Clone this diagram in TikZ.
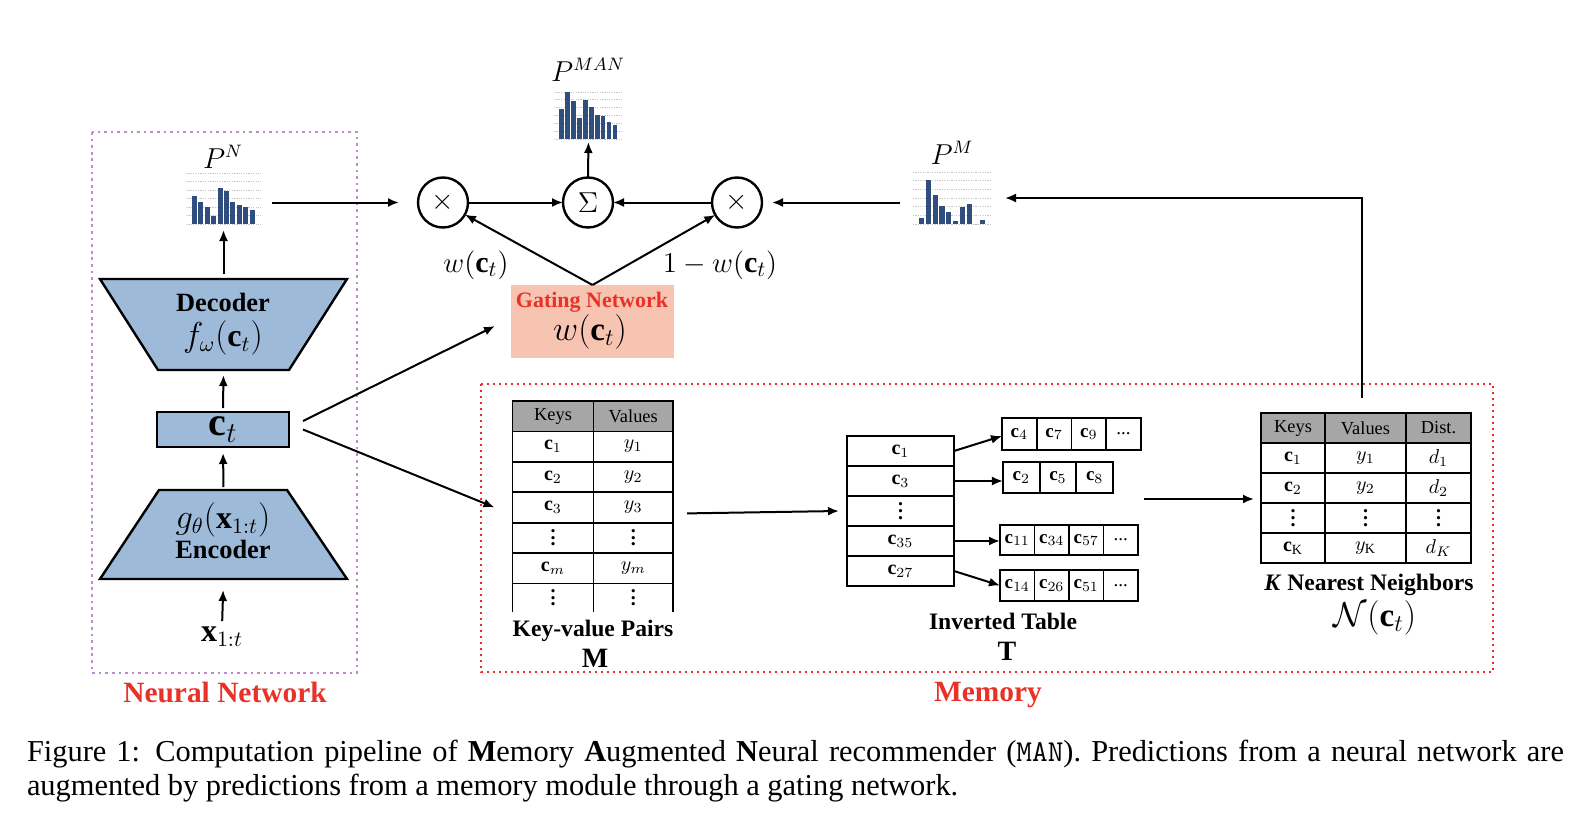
\documentclass[tikz,border=0pt]{standalone}
\usepackage{fontspec}
\setmainfont{Liberation Serif}
\usetikzlibrary{arrows.meta,calc}
\definecolor{trapblue}{RGB}{157,186,217}
\definecolor{purpdot}{RGB}{188,140,205}
\definecolor{reddot}{RGB}{232,45,45}
\definecolor{gatefill}{RGB}{246,196,176}
\definecolor{redtxt}{RGB}{232,50,40}
\definecolor{barc}{RGB}{47,78,125}
\definecolor{hdrgray}{RGB}{166,166,166}
\newcommand\fs[1]{\fontsize{#1}{#1}\selectfont}
\newcommand\vd{\vbox{\baselineskip=3.4pt\lineskiplimit=0pt\hbox{\bfseries .}\hbox{\bfseries .}\hbox{\bfseries .}}}
\newcommand\myGrid[1]{\foreach \k in {0,...,6}{\draw[gridl] ($(#1.north west)!\k/6!(#1.south west)$) -- ($(#1.north east)!\k/6!(#1.south east)$);}}
\newcommand\myHist[5]{\foreach \h [count=\i from 0] in {#5}{\fill[barc] ({#1+\i*#3},#2) rectangle ({#1+\i*#3+#4},{#2-\h});}}
\begin{document}
\begin{tikzpicture}[x=0.5pt,y=-0.5pt,
  every node/.style={inner sep=0pt, outer sep=0pt},
  arr/.style={-{Latex[length=5.5pt,width=4.5pt]}, line width=1pt},
  lbl/.style={font=\fs{11.8}\bfseries},
  cellst/.style={draw, line width=0.9pt, font=\fs{10}},
  hdr/.style={cellst, fill=hdrgray, font=\fs{9.2}},
  sub/.style={cellst, font=\fs{9.5}},
  gridl/.style={gray!45, line width=0.4pt, dash pattern=on 0.6pt off 0.6pt},
  opnode/.style={draw, circle, line width=1.2pt, minimum size=25pt, font=\fs{14}},
  redlbl/.style={font=\fs{14.7}\bfseries, text=redtxt},
]
\useasboundingbox (0,0) rectangle (1591,830);

% frames
\draw[purpdot, line width=1.35pt, dash pattern=on 1.35pt off 1.95pt] (92,132) rectangle (357,673);
\draw[reddot, line width=1.1pt, dash pattern=on 1.1pt off 1.9pt] (481,384) rectangle (1493,672);

% histograms
\node (pn) at (223.5,198.5) [minimum width=37.5pt, minimum height=25.5pt] {};
\myGrid{pn}
\myHist{192}{224}{6.4}{5}{28,22,17,8,36,33,22,19,17,14}
\node[font=\fs{13.5}] (pnl) at (223,157) {$P^N$};

\node (pman) at (588.5,115.5) [minimum width=34.5pt, minimum height=23.5pt] {};
\myGrid{pman}
\myHist{559}{139}{5.95}{4.8}{30,47,38,21,39,32,24,23,17,14}
\node[font=\fs{13.5}] (pmanl) at (588,70) {$P^{MAN}$};

\node (pm) at (952.5,198) [minimum width=39.5pt, minimum height=26pt] {};
\myGrid{pm}
\myHist{919}{224}{6.8}{5.2}{6,44,29,18,12,3,17,20,0,4}
\node[font=\fs{13.5}] (pml) at (952,153) {$P^M$};

% neural network
\node (dec) at (223.5,324.5) [minimum width=123.5pt, minimum height=45.5pt] {};
\draw[fill=trapblue, line width=1.2pt] (dec.north west) -- (dec.north east) -- ([xshift=-29pt]dec.south east) -- ([xshift=29pt]dec.south west) -- cycle;
\node[font=\fs{13.2}\bfseries] (dect1) at (223,302) {Decoder};
\node[font=\fs{16}] (dect2) at (223,338) {$f_\omega(\mathbf{c}_t)$};

\node (enc) at (223.5,534.5) [minimum width=123.5pt, minimum height=44.5pt] {};
\draw[fill=trapblue, line width=1.2pt] ([xshift=29.5pt]enc.north west) -- ([xshift=-30pt]enc.north east) -- (enc.south east) -- (enc.south west) -- cycle;
\node[font=\fs{16}] (enct1) at (223,520) {$g_\theta(\mathbf{x}_{1:t})$};
\node[font=\fs{13.2}\bfseries] (enct2) at (223,549) {Encoder};

\node[draw, fill=trapblue, line width=1.2pt, minimum width=66pt, minimum height=17.5pt, font=\fs{20}] (ct) at (223,429.5) {$\mathbf{c}_t$};
\node[font=\fs{16}] (xin) at (222,637) {$\mathbf{x}_{1:t}$};

\draw[arr, shorten <=3pt, shorten >=5.5pt] (xin.north) -- (enc.south);
\draw[arr, shorten <=1.5pt, shorten >=3pt] (enc.north) -- (ct.south);
\draw[arr, shorten <=2pt, shorten >=2.5pt] (ct.north) -- (dec.south);
\draw[arr, shorten <=2.5pt, shorten >=3pt] (dec.north) -- (pn.south);

% operators
\node[opnode] (m1) at (443,202.5) {$\times$};
\node[opnode] (sum) at (588,202.5) {$\Sigma$};
\node[opnode] (m2) at (737,202.5) {$\times$};

\draw[arr, shorten <=5.5pt, shorten >=9.5pt] (pn.east |- m1.west) -- (m1.west);
\draw[arr] (m1) -- (sum);
\draw[arr] (m2) -- (sum);
\draw[arr, shorten >=1.5pt] (sum.north) -- (pman.south);
\draw[arr, shorten <=6.5pt, shorten >=5pt] (pm.west |- m2.east) -- (m2.east);

% gating
\node[fill=gatefill, minimum width=81.5pt, minimum height=36.5pt] (gate) at (592.5,321.5) {};
\node[font=\fs{11}\bfseries, text=redtxt] (gt1) at (592,302) {Gating Network};
\node[font=\fs{16.5}] (gt2) at (590,332) {$w(\mathbf{c}_t)$};
\draw[arr] (gate.north) -- (m1);
\draw[arr] (gate.north) -- (m2);
\node[font=\fs{15}] (wl) at (476,265) {$w(\mathbf{c}_t)$};
\node[font=\fs{15}] (wr) at (720,265) {$1-w(\mathbf{c}_t)$};

% key-value table
\node[hdr, minimum width=40.5pt, minimum height=15.2pt] (kvH1) at (553,416.2) {Keys};
\node[hdr, minimum width=39.75pt, minimum height=15.2pt] (kvH2) at (633.25,416.2) {Values};
\node[cellst, minimum width=40.5pt, minimum height=15.2pt] (kvL1) at (553,446.6) {$\mathbf{c}_1$};
\node[cellst, minimum width=39.75pt, minimum height=15.2pt] (kvR1) at (633.25,446.6) {$y_1$};
\node[cellst, minimum width=40.5pt, minimum height=15.2pt] (kvL2) at (553,477) {$\mathbf{c}_2$};
\node[cellst, minimum width=39.75pt, minimum height=15.2pt] (kvR2) at (633.25,477) {$y_2$};
\node[cellst, minimum width=40.5pt, minimum height=15.2pt] (kvL3) at (553,507.4) {$\mathbf{c}_3$};
\node[cellst, minimum width=39.75pt, minimum height=15.2pt] (kvR3) at (633.25,507.4) {$y_3$};
\node[cellst, minimum width=40.5pt, minimum height=15.2pt] (kvL4) at (553,537.8) {\vd};
\node[cellst, minimum width=39.75pt, minimum height=15.2pt] (kvR4) at (633.25,537.8) {\vd};
\node[cellst, minimum width=40.5pt, minimum height=15.2pt] (kvL5) at (553,568.2) {$\mathbf{c}_m$};
\node[cellst, minimum width=39.75pt, minimum height=15.2pt] (kvR5) at (633.25,568.2) {$y_m$};
\node[minimum width=40.5pt, minimum height=14.3pt, font=\fs{10}] (kvL6) at (553,597.7) {\vd};
\node[minimum width=39.75pt, minimum height=14.3pt, font=\fs{10}] (kvR6) at (633.25,597.7) {\vd};
\draw[line width=0.9pt] (kvL6.north west) -- (kvL6.south west) (kvL6.north east) -- (kvL6.south east) (kvR6.north east) -- (kvR6.south east);
\node[lbl] (kvlbl) at (593,631) {Key-value Pairs};
\node[font=\fs{14}\bfseries] (kvM) at (595,658) {M};

% inverted table
\node[cellst, minimum width=53.5pt, minimum height=15pt] (inv1) at (900.5,451) {$\mathbf{c}_1$};
\node[cellst, minimum width=53.5pt, minimum height=15pt] (inv2) at (900.5,481) {$\mathbf{c}_3$};
\node[cellst, minimum width=53.5pt, minimum height=15pt] (inv3) at (900.5,511) {\vd};
\node[cellst, minimum width=53.5pt, minimum height=15pt] (inv4) at (900.5,541) {$\mathbf{c}_{35}$};
\node[cellst, minimum width=53.5pt, minimum height=15pt] (inv5) at (900.5,571) {$\mathbf{c}_{27}$};

\node[sub, minimum width=17.375pt, minimum height=16pt] (a11) at (1019.4,434) {$\mathbf{c}_4$};
\node[sub, minimum width=17.375pt, minimum height=16pt] (a12) at (1054.1,434) {$\mathbf{c}_7$};
\node[sub, minimum width=17.375pt, minimum height=16pt] (a13) at (1088.9,434) {$\mathbf{c}_9$};
\node[sub, minimum width=17.375pt, minimum height=16pt] (a14) at (1123.6,434) {...};

\node[sub, minimum width=18.33pt, minimum height=15.5pt] (a21) at (1021.3,477.5) {$\mathbf{c}_2$};
\node[sub, minimum width=18.33pt, minimum height=15.5pt] (a22) at (1058,477.5) {$\mathbf{c}_5$};
\node[sub, minimum width=18.33pt, minimum height=15.5pt] (a23) at (1094.7,477.5) {$\mathbf{c}_8$};

\node[sub, minimum width=17.25pt, minimum height=15pt] (a31) at (1017.25,540) {$\mathbf{c}_{11}$};
\node[sub, minimum width=17.25pt, minimum height=15pt] (a32) at (1051.75,540) {$\mathbf{c}_{34}$};
\node[sub, minimum width=17.25pt, minimum height=15pt] (a33) at (1086.25,540) {$\mathbf{c}_{57}$};
\node[sub, minimum width=17.25pt, minimum height=15pt] (a34) at (1120.75,540) {...};

\node[sub, minimum width=17.25pt, minimum height=15.5pt] (a41) at (1017.25,585.5) {$\mathbf{c}_{14}$};
\node[sub, minimum width=17.25pt, minimum height=15.5pt] (a42) at (1051.75,585.5) {$\mathbf{c}_{26}$};
\node[sub, minimum width=17.25pt, minimum height=15.5pt] (a43) at (1086.25,585.5) {$\mathbf{c}_{51}$};
\node[sub, minimum width=17.25pt, minimum height=15.5pt] (a44) at (1120.75,585.5) {...};

\draw[arr] (inv1.east) -- ([yshift=-1pt]a11.west);
\draw[arr] (inv2.east) -- (inv2.east -| a21.west);
\draw[arr] (inv4.east) -- (inv4.east -| a31.west);
\draw[arr] (inv5.east) -- (a41.west);

\node[lbl] (invlbl) at (1003,621) {Inverted Table};
\node[font=\fs{14}\bfseries] (invT) at (1007,651) {T};

% KNN table
\node[hdr, minimum width=32pt, minimum height=15pt] (knnA0) at (1293,428) {Keys};
\node[hdr, minimum width=40.5pt, minimum height=15pt] (knnB1) at (1365.5,428) {Values};
\node[hdr, minimum width=32.5pt, minimum height=15pt] (knnC0) at (1438.5,428) {Dist.};
\node[cellst, minimum width=32pt, minimum height=15pt] (knnA1) at (1293,458) {$\mathbf{c}_1$};
\node[cellst, minimum width=40.5pt, minimum height=15pt] (knnB2) at (1365.5,458) {$y_1$};
\node[cellst, minimum width=32.5pt, minimum height=15pt] (knnC1) at (1438.5,458) {$d_1$};
\node[cellst, minimum width=32pt, minimum height=15pt] (knnA2) at (1293,488) {$\mathbf{c}_2$};
\node[cellst, minimum width=40.5pt, minimum height=15pt] (knnB3) at (1365.5,488) {$y_2$};
\node[cellst, minimum width=32.5pt, minimum height=15pt] (knnC2) at (1438.5,488) {$d_2$};
\node[cellst, minimum width=32pt, minimum height=15pt] (knnA3) at (1293,518) {\vd};
\node[cellst, minimum width=40.5pt, minimum height=15pt] (knnB4) at (1365.5,518) {\vd};
\node[cellst, minimum width=32.5pt, minimum height=15pt] (knnC3) at (1438.5,518) {\vd};
\node[cellst, minimum width=32pt, minimum height=15pt] (knnA4) at (1293,548) {$\mathbf{c}_\mathrm{K}$};
\node[cellst, minimum width=40.5pt, minimum height=15pt] (knnB5) at (1365.5,548) {$y_\mathrm{K}$};
\node[cellst, minimum width=32.5pt, minimum height=15pt] (knnC4) at (1438.5,548) {$d_K$};
\node[lbl] (knnlbl) at (1369,585) {\textit{K} Nearest Neighbors};
\node[font=\fs{16.5}] (knnN) at (1375,618) {$\mathcal{N}(\mathbf{c}_t)$};

% memory flow
\coordinate (invout) at (1144,499);
\draw[arr] ([xshift=7pt,yshift=-3pt]kvR3.east) -- ([xshift=-4pt]inv3.west);
\draw[arr] (invout) -- ([xshift=-3.5pt,yshift=2pt]knnA3.north west);
\draw[arr, shorten >=6.5pt] ([xshift=-1.75pt,yshift=7.5pt]knnB1.north) |- (pm.east);

% c_t outputs
\draw[arr] ([xshift=7pt,yshift=4.25pt]ct.east) -- ([xshift=-8pt,yshift=-2.25pt]gate.west);
\draw[arr] ([xshift=7pt]ct.east) -- ([xshift=-9pt]kvL3.west);

% section labels
\node[redlbl] (nnlbl) at (225,692) {Neural Network};
\node[redlbl] (memlbl) at (988,695) {Memory};

% caption
\node[anchor=base west, font=\fs{15.2}] (cap1) at (27,761) {\makebox[768.5pt][s]{Figure 1: Computation pipeline of \textbf{M}emory \textbf{A}ugmented \textbf{N}eural recommender ({\ttfamily MAN}). Predictions from a neural network are}};
\node[anchor=base west, font=\fs{15.2}] (cap2) at (27,795) {augmented by predictions from a memory module through a gating network.};
\end{tikzpicture}
\end{document}
